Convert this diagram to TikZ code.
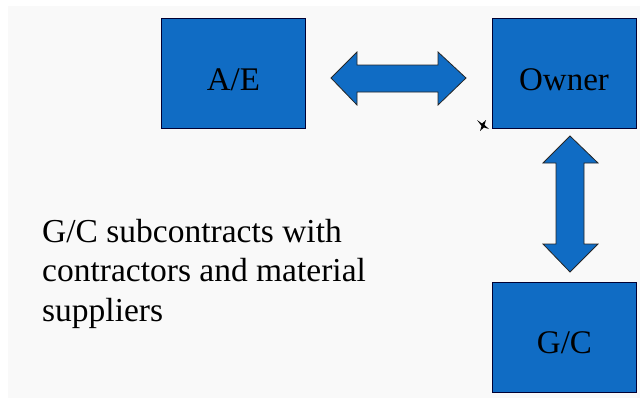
\documentclass[tikz,border=0pt]{standalone}
\usepackage{fontspec}
\setmainfont{Liberation Serif}
\begin{document}
\begin{tikzpicture}[x=1pt,y=-1pt,
  party/.style={draw=black!80!blue, line width=0.8pt, fill=boxblue,
    minimum width=144pt, minimum height=110pt, inner sep=0pt,
    text height=34pt, text depth=0pt,
    font=\fontsize{33}{36}\selectfont},
  link/.style={draw=black!85, line width=0.8pt, fill=boxblue, line join=miter}]
\definecolor{boxblue}{RGB}{16,108,196}
\definecolor{slide}{RGB}{249,249,249}
\useasboundingbox (0,0) rectangle (643,402);
\fill[slide] (8,6) rectangle (640,398);

% the three parties
\node[party] (ae) at (233.5,73) {A/E};
\node[party] (owner) at (564,73) {Owner};
\node[party, text height=33pt] (gc) at (564.5,337) {G/C};

% double arrow between A/E and Owner
\coordinate (hl) at (331,78);
\coordinate (hr) at (466,78);
\draw[link] (hl) -- ++(26,-26) -- ++(0,13) -- (438,65) -- ++(0,-13) -- (hr)
  -- (438,105) -- ++(0,-13) -- (357,92) -- ++(0,13) -- cycle;

% double arrow between Owner and G/C
\coordinate (vt) at (570,136);
\coordinate (vb) at (570,272);
\draw[link] (vt) -- (598,163) -- (584,163) -- (584,244) -- (598,244) -- (vb)
  -- (543,244) -- (556,244) -- (556,163) -- (543,163) -- cycle;

% small pin mark
\fill[black] (477,120) -- (482,123.5) -- (486,120) -- (484.5,125) -- (489,129)
  -- (484,127.5) -- (480,131) -- (481.5,126) -- cycle;

% note
\node[anchor=north west, align=left, inner sep=0pt,
  font=\fontsize{33.5}{39.5}\selectfont] (note) at (42,219)
  {G/C subcontracts with\\contractors and material\\suppliers};
\end{tikzpicture}
\end{document}
